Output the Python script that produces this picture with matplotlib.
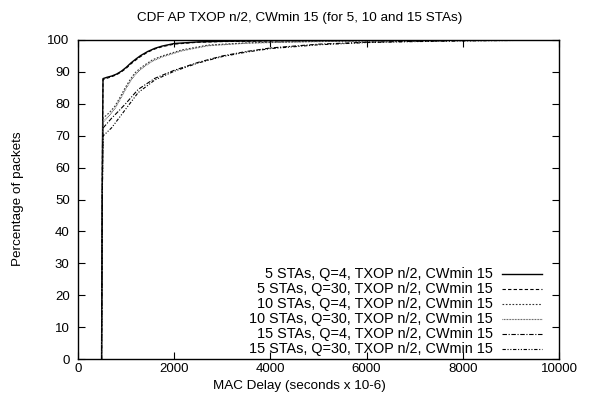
import matplotlib
matplotlib.use("Agg")
import matplotlib.pyplot as plt

plt.rcParams['font.family'] = ['Liberation Sans', 'DejaVu Sans']

# Data (MAC delay in microseconds, cumulative percentage)
delay_5_q4 = [490, 505, 520, 600, 700, 800, 900, 1000, 1100, 1200, 1300, 1450, 1600, 1750, 2000, 2500, 3000, 4000, 5000, 6000, 8000, 10000]
cdf_5_q4 = [0, 60, 87.9, 88.3, 88.7, 89.3, 90.2, 91.4, 92.8, 94.0, 95.1, 96.4, 97.4, 98.1, 98.9, 99.4, 99.6, 99.8, 99.85, 99.9, 100, 100]

delay_5_q30 = [490, 505, 520, 600, 700, 800, 900, 1000, 1100, 1200, 1300, 1450, 1600, 1750, 2000, 2500, 3000, 4000, 5000, 6000, 8000, 10000]
cdf_5_q30 = [0, 60, 87.6, 88.0, 88.5, 89.1, 90.0, 91.1, 92.5, 93.7, 94.8, 96.2, 97.2, 97.9, 98.7, 99.3, 99.5, 99.7, 99.8, 99.9, 100, 100]

delay_10_q4 = [490, 505, 520, 650, 770, 880, 980, 1085, 1185, 1290, 1390, 1550, 1750, 2160, 2700, 3500, 4000, 5000, 6000, 8000, 10000]
cdf_10_q4 = [0, 50, 75.5, 77.2, 79.3, 82.2, 85.0, 87.6, 89.7, 91.1, 92.2, 93.8, 95.0, 96.9, 98.4, 99.1, 99.3, 99.6, 99.7, 99.9, 100]

delay_10_q30 = [490, 505, 520, 650, 770, 880, 980, 1085, 1185, 1290, 1390, 1550, 1750, 2160, 2700, 3500, 4000, 5000, 6000, 8000, 10000]
cdf_10_q30 = [0, 50, 74.3, 76.3, 78.6, 81.5, 84.3, 87.0, 89.1, 90.6, 91.8, 93.4, 94.7, 96.6, 98.2, 99.0, 99.2, 99.5, 99.7, 99.9, 100]

delay_15_q4 = [490, 505, 520, 700, 850, 1000, 1250, 1600, 2000, 2500, 3000, 3500, 4000, 5000, 6000, 7000, 8000, 10000]
cdf_15_q4 = [0, 50, 72.4, 75.5, 77.8, 80.2, 84.5, 88.0, 90.5, 93.0, 95.0, 96.4, 97.5, 98.7, 99.3, 99.6, 99.8, 100]

delay_15_q30 = [490, 505, 520, 700, 850, 1000, 1250, 1600, 2000, 2500, 3000, 3500, 4000, 5000, 6000, 7000, 8000, 10000]
cdf_15_q30 = [0, 50, 69.9, 72.5, 75.5, 78.5, 83.5, 87.5, 90.2, 92.8, 94.8, 96.2, 97.3, 98.5, 99.2, 99.5, 99.7, 100]

labels = [
    "5 STAs, Q=4, TXOP n/2, CWmin 15",
    "5 STAs, Q=30, TXOP n/2, CWmin 15",
    "10 STAs, Q=4, TXOP n/2, CWmin 15",
    "10 STAs, Q=30, TXOP n/2, CWmin 15",
    "15 STAs, Q=4, TXOP n/2, CWmin 15",
    "15 STAs, Q=30, TXOP n/2, CWmin 15",
]
x_ticks = [0, 2000, 4000, 6000, 8000, 10000]
y_ticks = [0, 10, 20, 30, 40, 50, 60, 70, 80, 90, 100]

series = [
    (delay_5_q4, cdf_5_q4),
    (delay_5_q30, cdf_5_q30),
    (delay_10_q4, cdf_10_q4),
    (delay_10_q30, cdf_10_q30),
    (delay_15_q4, cdf_15_q4),
    (delay_15_q30, cdf_15_q30),
]
styles = [
    dict(ls='-', color='black', lw=1.0),
    dict(ls=(0, (3, 2)), color='black', lw=0.8),
    dict(ls=(0, (1.5, 1.5)), color='#333333', lw=0.8),
    dict(ls=(0, (0.7, 0.7)), color='#444444', lw=0.8),
    dict(ls=(0, (4, 1.5, 1, 1.5)), color='black', lw=0.8),
    dict(ls=(0, (3, 1.5, 1, 1.5, 1, 1.5)), color='black', lw=0.8),
]

fig = plt.figure(figsize=(5.93, 4.03), dpi=100)
ax = fig.add_axes([78 / 593, 1 - 359 / 403, (559 - 78) / 593, (359 - 40) / 403])

for (xs, ys), st in zip(series, styles):
    ax.plot(xs, ys, **st)

ax.set_xlim(0, 10000)
ax.set_ylim(0, 100)
ax.set_xticks(x_ticks)
ax.set_yticks(y_ticks)
ax.tick_params(direction='in', top=True, right=True, length=5, width=0.8, labelsize=9.5)
ax.tick_params(axis='x', pad=3)
ax.tick_params(axis='y', pad=6)
for s in ax.spines.values():
    s.set_linewidth(1.0)

fig.text(300 / 593, 1 - 18 / 403, "CDF AP TXOP n/2, CWmin 15 (for 5, 10 and 15 STAs)", fontsize=9.7,
         ha='center', va='center')
fig.text(299 / 593, 1 - 386 / 403, "MAC Delay (seconds x 10-6)", fontsize=9.7,
         ha='center', va='center')
fig.text(18 / 593, 1 - 199 / 403, "Percentage of packets", fontsize=9.7,
         ha='center', va='center', rotation=90)

# Manual gnuplot-style legend: right-aligned text, line sample on right
trans = ax.transAxes
ax_w = 559 - 78
ax_h = 359 - 40
rows_y = [274, 289, 304, 319, 334, 349]
for lab, st, py in zip(labels, styles, rows_y):
    yy = (359 - py) / ax_h
    ax.text((493 - 78) / ax_w, yy, lab, transform=trans, ha='right', va='center', fontsize=10.4)
    ax.plot([(502 - 78) / ax_w, (542 - 78) / ax_w], [yy, yy], transform=trans, **st)

fig.savefig("out.png", dpi=100)
